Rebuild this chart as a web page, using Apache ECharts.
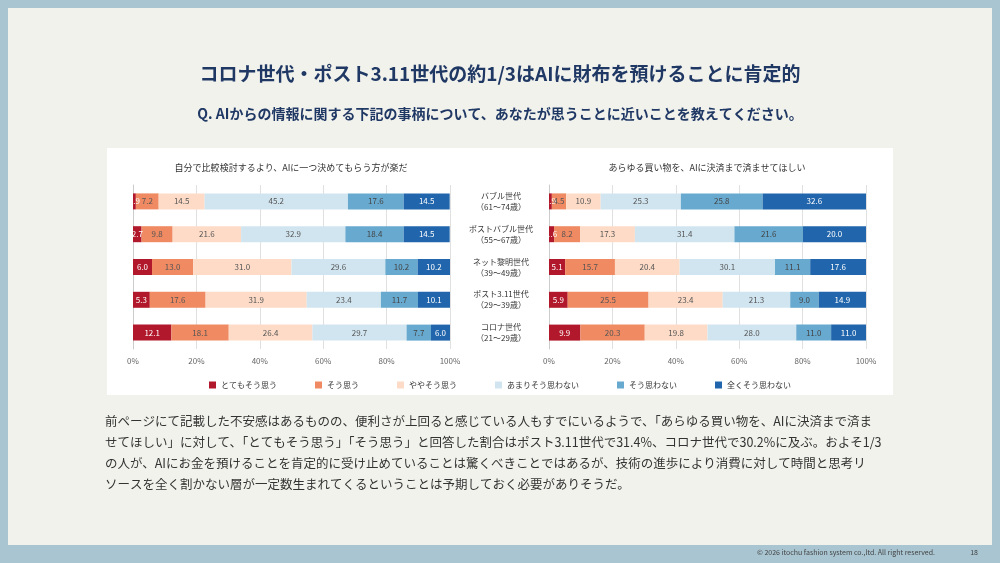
<!DOCTYPE html>
<html><head><meta charset="utf-8">
<script src="https://cdn.jsdelivr.net/npm/echarts@6/dist/echarts.min.js"></script>
<style>html,body{margin:0;padding:0;background:#a8c5d1}#c{width:1000px;height:563px}</style>
</head><body><div id="c"></div>
<script>
const categories = ['バブル世代\n（61～74歳）','ポストバブル世代\n（55～67歳）','ネット黎明世代\n（39～49歳）','ポスト3.11世代\n（29～39歳）','コロナ世代\n（21～29歳）'];
const seriesNames = ['とてもそう思う','そう思う','ややそう思う','あまりそう思わない','そう思わない','全くそう思わない'];
const leftValues = [
  [0.9,2.7,6.0,5.3,12.1],
  [7.2,9.8,13.0,17.6,18.1],
  [14.5,21.6,31.0,31.9,26.4],
  [45.2,32.9,29.6,23.4,29.7],
  [17.6,18.4,10.2,11.7,7.7],
  [14.5,14.5,10.2,10.1,6.0]
];
const rightValues = [
  [0.9,1.6,5.1,5.9,9.9],
  [4.5,8.2,15.7,25.5,20.3],
  [10.9,17.3,20.4,23.4,19.8],
  [25.3,31.4,30.1,21.3,28.0],
  [25.8,21.6,11.1,9.0,11.0],
  [32.6,20.0,17.6,14.9,11.0]
];
const leftTitle = '自分で比較検討するより、AIに一つ決めてもらう方が楽だ';
const rightTitle = 'あらゆる買い物を、AIに決済まで済ませてほしい';
const colors = ['#b2182b','#ef8a62','#fddbc7','#d1e5f0','#67a9cf','#2166ac'];
const labelColors = ['#fff','#555','#555','#555','#444','#fff'];
const F = '"Noto Sans CJK JP", sans-serif';
const chart = echarts.init(document.getElementById('c'));
const series = [];
[leftValues, rightValues].forEach((vals, gi) => {
  vals.forEach((v, i) => {
    series.push({
      type:'bar', name: seriesNames[i], stack:'s'+gi, xAxisIndex:gi, yAxisIndex:gi,
      data: v, barWidth:16, itemStyle:{color:colors[i]},
      label:{show:true, position:'inside', color:labelColors[i], fontSize:8, fontFamily:F, formatter:p=>p.value.toFixed(1)},
      emphasis:{disabled:true}
    });
  });
});
const xa = gi => ({type:'value', gridIndex:gi, min:0, max:100, interval:20,
  axisLabel:{formatter:'{value}%', fontSize:8, color:'#666', fontFamily:F},
  splitLine:{lineStyle:{color:'#e0e0e0'}}, axisLine:{show:false}, axisTick:{show:false}});
const ya = (gi, show) => ({type:'category', gridIndex:gi, data:categories, inverse:true,
  axisLine:{show:true, lineStyle:{color:'#ccc'}}, axisTick:{show:false},
  axisLabel:{show:show, fontSize:8, color:'#333', fontFamily:F, lineHeight:11, margin:48, align:'center'}});
chart.setOption({
  animation:false,
  graphic:[
    {type:'rect', shape:{x:8,y:8,width:984,height:537}, style:{fill:'#f2f2ed'}},
    {type:'rect', shape:{x:107,y:148,width:786,height:247}, style:{fill:'#ffffff'}},
    {type:'text', left:'center', top:64, style:{text:'コロナ世代・ポスト3.11世代の約1/3はAIに財布を預けることに肯定的', font:'bold 19px '+F, fill:'#1f3864'}},
    {type:'text', left:'center', top:107, style:{text:'Q. AIからの情報に関する下記の事柄について、あなたが思うことに近いことを教えてください。', font:'bold 14px '+F, fill:'#1f3864'}},
    {type:'text', x:291, y:163, style:{text:leftTitle, font:'9px '+F, fill:'#333', textAlign:'center'}},
    {type:'text', x:707, y:163, style:{text:rightTitle, font:'9px '+F, fill:'#333', textAlign:'center'}},
    {type:'text', x:105, y:411, style:{text:'前ページにて記載した不安感はあるものの、便利さが上回ると感じている人もすでにいるようで、「あらゆる買い物を、AIに決済まで済ま\nせてほしい」に対して、「とてもそう思う」「そう思う」と回答した割合はポスト3.11世代で31.4%、コロナ世代で30.2%に及ぶ。およそ1/3\nの人が、AIにお金を預けることを肯定的に受け止めていることは驚くべきことではあるが、技術の進歩により消費に対して時間と思考リ\nソースを全く割かない層が一定数生まれてくるということは予期しておく必要がありそうだ。', font:'12.5px '+F, fill:'#333', lineHeight:21}},
    {type:'text', x:935, y:549, style:{text:'© 2026 itochu fashion system co.,ltd. All right reserved.', font:'7px '+F, fill:'#444', textAlign:'right'}},
    {type:'text', x:978, y:549, style:{text:'18', font:'7px '+F, fill:'#444', textAlign:'right'}}
  ],
  legend:{data:seriesNames, top:376, left:'center', itemWidth:7, itemHeight:7, itemGap:38, icon:'rect',
    textStyle:{fontSize:8, color:'#333', fontFamily:F}},
  grid:[
    {left:133, width:317, top:185, height:164},
    {left:549, width:317, top:185, height:164}
  ],
  xAxis:[xa(0), xa(1)],
  yAxis:[ya(0,false), ya(1,true)],
  series
});
</script></body></html>
